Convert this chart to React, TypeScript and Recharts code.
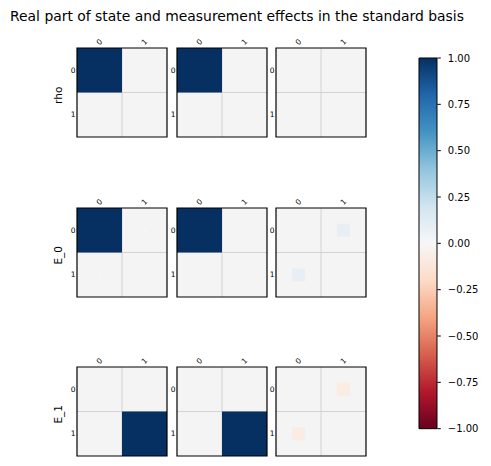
import {
  ScatterChart,
  Scatter,
  XAxis,
  YAxis,
  ZAxis,
  CartesianGrid,
  ReferenceLine,
  ReferenceArea,
  BarChart,
  Bar,
} from 'recharts';

const title = 'Real part of state and measurement effects in the standard basis';
const rowLabels = ['rho', 'E_0', 'E_1'];
const cellTicks = [0, 1];
const colorbarTicks = [1, 0.75, 0.5, 0.25, 0, -0.25, -0.5, -0.75, -1];
const colorbarRange = [-1, 1];

// one 2x2 matrix per column, rows of the figure
const rhoPanels = [
  [[1, 0], [0, 0]],
  [[1, 0], [0, 0]],
  [[0, 0], [0, 0]],
];
const e0Panels = [
  [[1, 0.003], [0.003, 0]],
  [[1, 0], [0, 0]],
  [[0, 0.085], [0.085, 0.002]],
];
const e1Panels = [
  [[0, 0.002], [0.002, 1]],
  [[0, 0], [0, 1]],
  [[0, -0.085], [-0.085, 0]],
];
const allRows = [rhoPanels, e0Panels, e1Panels];

const RDBU = [
  '#67001f', '#b2182b', '#d6604d', '#f4a582', '#fddbc7', '#f7f7f7',
  '#d1e5f0', '#92c5de', '#4393c3', '#2166ac', '#053061',
];

const FONT = '"DejaVu Sans", sans-serif';
const PANEL_LEFT = [76.7, 176.7, 276.3];
const PANEL_TOP = [48.3, 208.3, 367.3];
const PANEL_W = 90;
const PANEL_H = 89;
const Y_AXIS_W = 12;
const X_AXIS_H = 14;
const CELL_W = PANEL_W / 2;
const TICK_FS = 7.5;

function hex(c: string) {
  return [1, 3, 5].map((i) => parseInt(c.slice(i, i + 2), 16));
}

function rdbu(v: number) {
  const t = Math.min(Math.max((v + 1) / 2, 0), 1) * (RDBU.length - 1);
  const i = Math.min(Math.floor(t), RDBU.length - 2);
  const f = t - i;
  const a = hex(RDBU[i]);
  const b = hex(RDBU[i + 1]);
  const rgb = a.map((x, k) => Math.round(x + (b[k] - x) * f));
  return `rgb(${rgb.join(',')})`;
}

function toCells(m: number[][]) {
  const out: { row: number; col: number; v: number; z: number }[] = [];
  m.forEach((r, ri) =>
    r.forEach((v, ci) => out.push({ row: ri, col: ci, v, z: Math.abs(v) })),
  );
  return out;
}

function TopTick(props: any) {
  const { x, y, payload } = props;
  const cy = y - 6;
  return (
    <text
      x={x}
      y={cy}
      transform={`rotate(-45 ${x} ${cy})`}
      textAnchor="middle"
      dominantBaseline="central"
      fontSize={TICK_FS}
      fontFamily={FONT}
      fill="#000"
    >
      {payload.value}
    </text>
  );
}

function CellSquare(props: any) {
  const { cx, cy, width, payload } = props;
  if (!width || width < 0.3) return <g />;
  const h = width * (PANEL_H / PANEL_W);
  return (
    <rect
      x={cx - width / 2}
      y={cy - h / 2}
      width={width}
      height={h}
      fill={rdbu(payload.v)}
    />
  );
}

function Panel({ matrix, left, top }: { matrix: number[][]; left: number; top: number }) {
  const data = toCells(matrix);
  return (
    <div style={{ position: 'absolute', left: left - Y_AXIS_W, top: top - X_AXIS_H }}>
      <ScatterChart
        width={Y_AXIS_W + PANEL_W + 2}
        height={X_AXIS_H + PANEL_H + 2}
        margin={{ top: 0, right: 2, bottom: 2, left: 0 }}
      >
        <CartesianGrid fill="#f4f4f4" horizontal={false} vertical={false} />
        <XAxis
          type="number"
          dataKey="col"
          orientation="top"
          domain={[-0.5, 1.5]}
          ticks={cellTicks}
          interval={0}
          height={X_AXIS_H}
          axisLine={false}
          tickLine={false}
          tickSize={0}
          tickMargin={0}
          tick={<TopTick />}
        />
        <YAxis
          type="number"
          dataKey="row"
          domain={[-0.5, 1.5]}
          reversed
          ticks={cellTicks}
          interval={0}
          width={Y_AXIS_W}
          axisLine={false}
          tickLine={false}
          tickSize={0}
          tickMargin={1.5}
          tick={{ fontSize: TICK_FS, fill: '#000', fontFamily: FONT }}
        />
        <ZAxis
          type="number"
          dataKey="z"
          domain={[0, 1]}
          range={[0, (Math.PI / 4) * CELL_W * CELL_W]}
        />
        <ReferenceLine x={0.5} stroke="#d3d3d3" strokeWidth={1} zIndex={-50} />
        <ReferenceLine y={0.5} stroke="#d3d3d3" strokeWidth={1} zIndex={-50} />
        <Scatter data={data} shape={<CellSquare />} isAnimationActive={false} />
        <ReferenceArea
          x1={-0.5}
          x2={1.5}
          y1={-0.5}
          y2={1.5}
          fill="none"
          fillOpacity={0}
          stroke="#000"
          strokeWidth={1.2}
          zIndex={1500}
        />
      </ScatterChart>
    </div>
  );
}

function Colorbar() {
  const data = [{ name: 'cb', range: colorbarRange }];
  const cbLeft = 419;
  const cbTop = 58.3;
  const cbW = 18.3;
  const cbH = 370.7;
  return (
    <div style={{ position: 'absolute', left: cbLeft - 1, top: cbTop - 8 }}>
      <BarChart
        width={1 + cbW + 50}
        height={cbH + 16}
        data={data}
        margin={{ top: 8, right: 0, bottom: 8, left: 1 }}
        barCategoryGap={0}
        barGap={0}
      >
        <defs>
          <linearGradient id="rdbuGrad" x1="0" y1="1" x2="0" y2="0">
            {RDBU.map((c, i) => (
              <stop key={i} offset={i / (RDBU.length - 1)} stopColor={c} />
            ))}
          </linearGradient>
        </defs>
        <XAxis type="category" dataKey="name" hide />
        <YAxis
          orientation="right"
          type="number"
          domain={[-1, 1]}
          ticks={colorbarTicks}
          interval={0}
          width={50}
          axisLine={false}
          tickSize={3.5}
          tickMargin={7}
          tickLine={{ stroke: '#000' }}
          tick={{ fontSize: 10, fill: '#000', fontFamily: FONT }}
          tickFormatter={(v: number) => (v < 0 ? '\u2212' : '') + Math.abs(v).toFixed(2)}
        />
        <Bar
          dataKey="range"
          fill="url(#rdbuGrad)"
          stroke="#000"
          strokeWidth={1}
          isAnimationActive={false}
        />
      </BarChart>
    </div>
  );
}

export default function App() {
  return (
    <div
      style={{
        position: 'absolute',
        left: 0,
        top: 0,
        width: 491,
        height: 466,
        background: '#fff',
        fontFamily: FONT,
      }}
    >
      <svg width={491} height={466} style={{ position: 'absolute', left: 0, top: 0 }}>
        <text x={237} y={20.7} textAnchor="middle" fontSize={13.9} fontFamily={FONT} fill="#000">
          {title}
        </text>
        {rowLabels.map((label, r) => {
          const cy = PANEL_TOP[r] + PANEL_H / 2 + 2.5;
          return (
            <text
              key={label}
              transform={`translate(62 ${cy}) rotate(-90)`}
              textAnchor="middle"
              fontSize={10.5}
              fontFamily={FONT}
              fill="#000"
            >
              {label}
            </text>
          );
        })}
      </svg>
      {allRows.map((panels, r) =>
        panels.map((m, c) => (
          <Panel key={`${r}-${c}`} matrix={m} left={PANEL_LEFT[c]} top={PANEL_TOP[r]} />
        )),
      )}
      <Colorbar />
    </div>
  );
}
